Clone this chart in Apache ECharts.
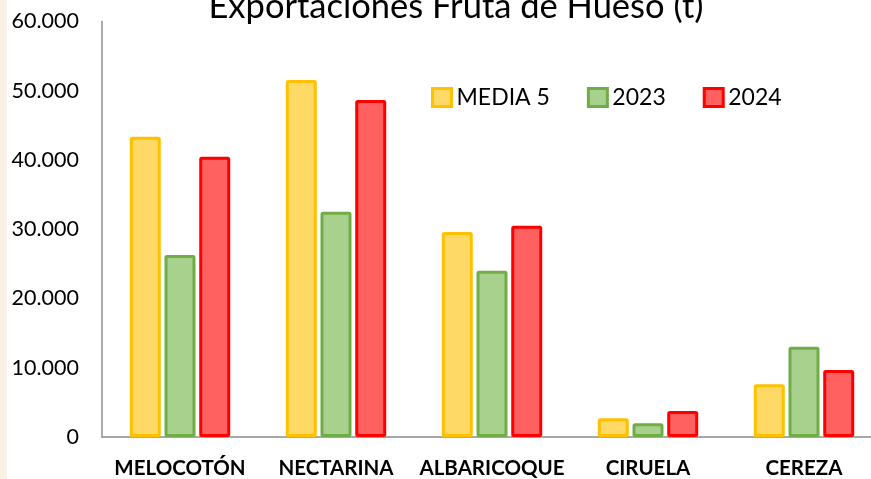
<!DOCTYPE html>
<html>
<head>
<meta charset="utf-8">
<script src="https://cdn.jsdelivr.net/npm/echarts@6/dist/echarts.min.js"></script>
<style>
html,body{margin:0;padding:0;background:#fff;}
#chart{width:871px;height:479px;}
</style>
</head>
<body>
<div id="chart"></div>
<script>
const categories = ['MELOCOTÓN', 'NECTARINA', 'ALBARICOQUE', 'CIRUELA', 'CEREZA'];
const media5 = [43360, 51550, 29600, 2700, 7610];
const y2023 = [26280, 32530, 24010, 1980, 13030];
const y2024 = [40480, 48660, 30510, 3750, 9680];
const yTicks = [0, 10000, 20000, 30000, 40000, 50000, 60000];
const seriesNames = ['MEDIA 5', '2023', '2024'];

const FONT = 'Lato';
const chart = echarts.init(document.getElementById('chart'), null, {renderer: 'canvas'});

function fmt(v) {
  return String(v).replace(/\B(?=(\d{3})+(?!\d))/g, '.');
}

const styles = [
  {fill: '#FFD966', border: '#FFC000'},
  {fill: '#A9D18E', border: '#70AD47'},
  {fill: '#FF6161', border: '#FF0000'}
];
const data = [media5, y2023, y2024];

chart.setOption({
  animation: false,
  backgroundColor: '#ffffff',
  textStyle: {fontFamily: FONT},
  title: {
    text: 'Exportaciones Fruta de Hueso (t)',
    left: 451, top: -16,
    textAlign: 'center',
    textStyle: {fontFamily: FONT, fontSize: 34.5, fontWeight: 'normal', color: '#000'}
  },
  graphic: [{
    type: 'rect', left: 0, top: 0, z: 100,
    shape: {width: 7, height: 479},
    style: {fill: '#FBF0E6'}
  }],
  legend: {
    data: seriesNames,
    left: 426, top: 81,
    itemWidth: 19, itemHeight: 18,
    itemGap: 37,
    icon: 'rect',
    itemStyle: {borderWidth: 3},
    textStyle: {fontFamily: FONT, fontSize: 23, color: '#000'}
  },
  grid: {left: 102, top: 21.5, width: 780, bottom: 42, containLabel: false, outerBoundsMode: 'none'},
  xAxis: {
    type: 'category',
    data: categories,
    axisLine: {show: true, lineStyle: {color: '#8c8c8c', width: 1.5}},
    axisTick: {show: false},
    axisLabel: {interval: 0, fontFamily: FONT, fontSize: 20.5, fontWeight: 'bold', color: '#000', margin: 21}
  },
  yAxis: {
    type: 'value',
    min: yTicks[0], max: yTicks[yTicks.length - 1], interval: 10000,
    axisLine: {show: true, lineStyle: {color: '#8c8c8c', width: 1.5}},
    axisTick: {show: false},
    splitLine: {show: false},
    axisLabel: {fontFamily: FONT, fontSize: 21.5, color: '#000', margin: 23, formatter: fmt}
  },
  series: seriesNames.map((n, i) => ({
    name: n,
    type: 'bar',
    data: data[i],
    barWidth: 31,
    barGap: '12%',
    itemStyle: {color: styles[i].fill, borderColor: styles[i].border, borderWidth: 3, borderRadius: 1}
  }))
});
</script>
</body>
</html>
